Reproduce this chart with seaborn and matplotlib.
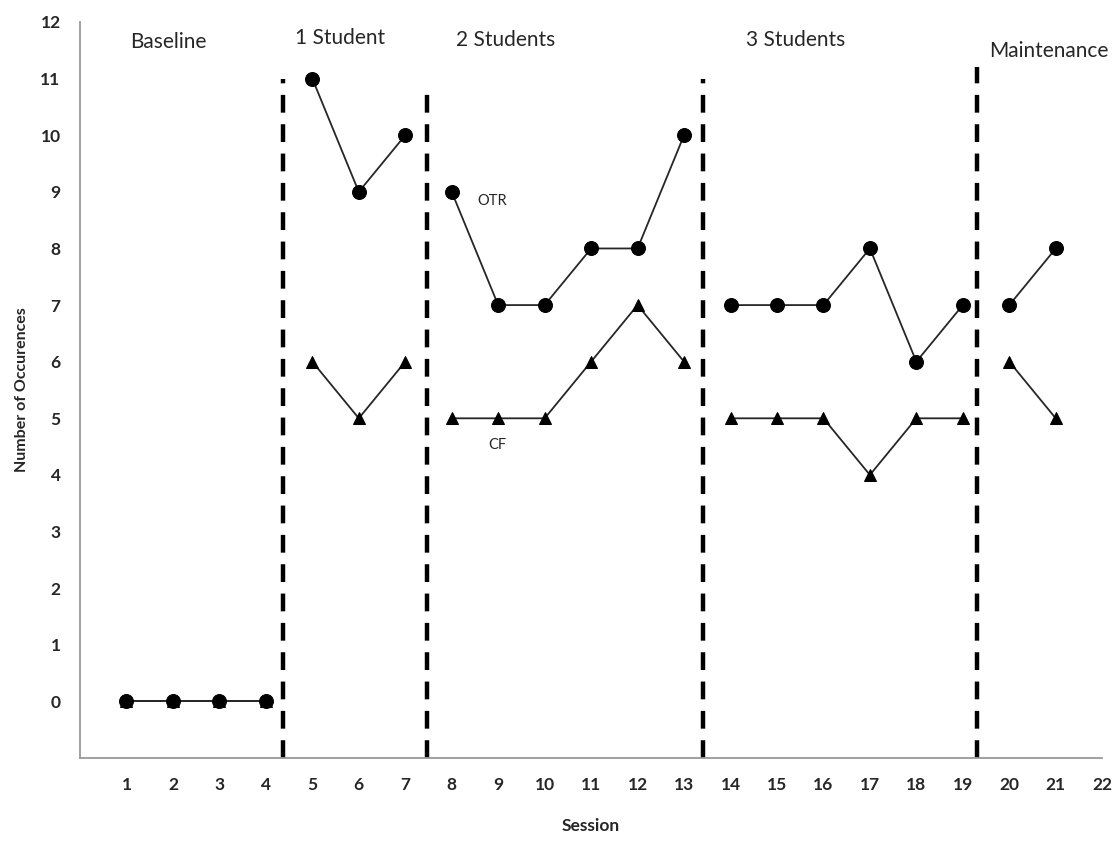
import pandas as pd
import seaborn as sns
import matplotlib.pyplot as plt

# dados
sessions = list(range(1, 22))
otr = [0, 0, 0, 0, 11, 9, 10, 9, 7, 7, 8, 8, 10, 7, 7, 7, 8, 6, 7, 7, 8]
cf = [0, 0, 0, 0, 6, 5, 6, 5, 5, 5, 6, 7, 6, 5, 5, 5, 4, 5, 5, 6, 5]
phases = ["Baseline"] * 4 + ["1 Student"] * 3 + ["2 Students"] * 6 + \
         ["3 Students"] * 6 + ["Maintenance"] * 2

phase_lines = [4.37, 7.47, 13.41, 19.31]
phase_line_tops = [11.0, 10.77, 11.0, 11.2]
phase_names = ["Baseline", "1 Student", "2 Students", "3 Students", "Maintenance"]
phase_label_x = [1.9, 5.6, 9.15, 15.4, 20.85]
phase_label_y = [11.65, 11.72, 11.68, 11.68, 11.48]

df = pd.DataFrame({"session": sessions, "otr": otr, "cf": cf, "phase": phases})

sns.set_style("white")
plt.rcParams["font.family"] = ["Lato", "DejaVu Sans"]

fig = plt.figure(figsize=(11.19, 8.46), dpi=100)
ax = fig.add_axes([0.0715, 0.104, 0.9135, 0.87])

for name in phase_names:
    sub = df[df["phase"] == name]
    sns.lineplot(data=sub, x="session", y="cf", ax=ax, color="#262626",
                 linewidth=1.3, marker="^", markersize=9, zorder=3,
                 markerfacecolor="black", markeredgecolor="black")
    sns.lineplot(data=sub, x="session", y="otr", ax=ax, color="#262626",
                 linewidth=1.3, marker="o", markersize=10, zorder=4,
                 markerfacecolor="black", markeredgecolor="black")

# linhas de mudança de fase
for xl, top in zip(phase_lines, phase_line_tops):
    ax.plot([xl, xl], [-1, top], color="black", linewidth=3.2,
            linestyle=(0, (4, 2.6)), solid_capstyle="butt")

for name, xt, yt in zip(phase_names, phase_label_x, phase_label_y):
    ax.text(xt, yt, name, fontsize=15, ha="center", va="center")

ax.text(8.87, 8.83, "OTR", fontsize=10.5, ha="center", va="center")
ax.text(8.98, 4.53, "CF", fontsize=10.5, ha="center", va="center")

ax.set_xlim(0, 22)
ax.set_ylim(-1, 12)
ax.set_xticks(range(1, 23))
ax.set_yticks(range(0, 13))
ax.tick_params(axis="both", length=0, labelsize=12.5, pad=14)
for lab in ax.get_xticklabels() + ax.get_yticklabels():
    lab.set_fontweight("bold")

ax.set_xlabel("Session", fontsize=12.5, fontweight="bold", labelpad=18)
ax.set_ylabel("Number of Occurences", fontsize=11.5, fontweight="bold", labelpad=8)

for side in ["top", "right"]:
    ax.spines[side].set_visible(False)
for side in ["left", "bottom"]:
    ax.spines[side].set_color("#999999")
    ax.spines[side].set_linewidth(1.3)

plt.savefig("out.png", dpi=100)
